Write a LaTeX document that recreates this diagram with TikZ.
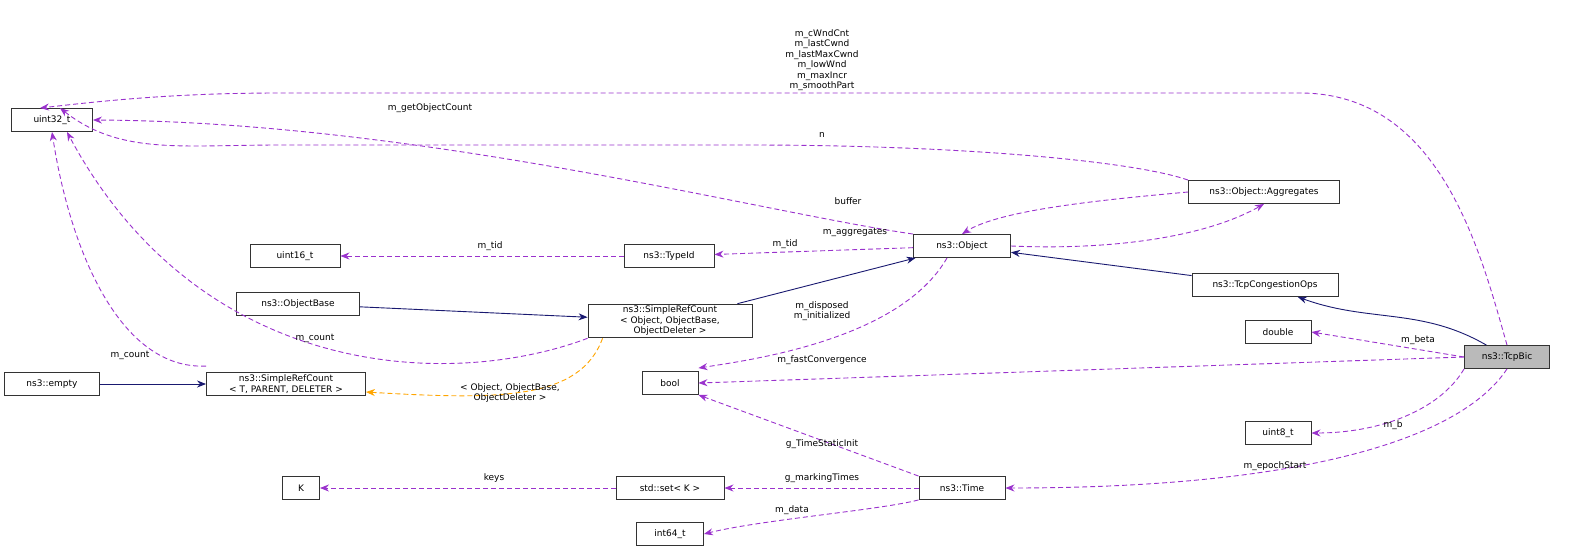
\documentclass[tikz,border=0pt]{standalone}
\usepackage{fontspec}
\setmainfont{DejaVu Sans}
\usetikzlibrary{arrows.meta}
\definecolor{usecol}{HTML}{9A32CD}
\definecolor{inhcol}{HTML}{191970}
\definecolor{tplcol}{HTML}{FFA500}
\begin{document}
\begin{tikzpicture}[x=1pt,y=-1pt,font=\fontsize{9}{10.5}\selectfont,line width=0.9pt,
  cls/.style={draw=black!80,fill=white,inner sep=2pt,minimum height=23pt,align=center},
  use/.style={usecol,dash pattern=on 5pt off 3pt,-{Stealth[length=9pt,width=7pt]}},
  inh/.style={inhcol,-{Stealth[length=9pt,width=7pt]}},
  tpl/.style={tplcol,dash pattern=on 5pt off 3pt,-{Stealth[length=9pt,width=7pt]}},
  lbl/.style={black,align=center,inner sep=1pt}]
\useasboundingbox (0,0) rectangle (1575,557);
% classes
\node[cls,minimum width=81pt] (u32) at (52,120) {uint32\_t};
\node[cls,minimum width=90pt] (u16) at (295,256) {uint16\_t};
\node[cls,minimum width=123pt] (obase) at (298,304) {ns3::ObjectBase};
\node[cls,minimum width=95pt] (empty) at (52,384) {ns3::empty};
\node[cls,minimum width=159pt] (srct) at (286,384) {ns3::SimpleRefCount\\\textless{} T, PARENT, DELETER \textgreater};
\node[cls,minimum width=37pt] (k) at (301,488) {K};
\node[cls,minimum width=90pt] (tid) at (669,256) {ns3::TypeId};
\node[cls,minimum width=164pt] (srco) at (670,321) {ns3::SimpleRefCount\\\textless{} Object, ObjectBase,\\ObjectDeleter \textgreater};
\node[cls,minimum width=108pt] (set) at (670,488) {std::set\textless{} K \textgreater};
\node[cls,minimum width=97pt] (obj) at (962,246) {ns3::Object};
\node[cls,minimum width=56pt] (bool) at (670,383) {bool};
\node[cls,minimum width=86pt] (time) at (962,488) {ns3::Time};
\node[cls,minimum width=67pt] (i64) at (670,534) {int64\_t};
\node[cls,minimum width=151pt] (agg) at (1264,192) {ns3::Object::Aggregates};
\node[cls,minimum width=146pt] (tco) at (1265,285) {ns3::TcpCongestionOps};
\node[cls,minimum width=66pt] (dbl) at (1278,332) {double};
\node[cls,minimum width=66pt] (u8) at (1278,433) {uint8\_t};
\node[cls,minimum width=85pt,fill=black!27] (bic) at (1507,357) {ns3::TcpBic};
% inheritance
\draw[inh] (bic) to[out=150,in=-20] (tco);
\draw[inh] (tco) -- (obj);
\draw[inh] (srco) -- (obj);
\draw[inh] (obase) -- (srco);
\draw[inh] (empty) -- (srct);
% usage
\draw[use] (bic.north) .. controls (1480,250) and (1440,93) .. (1300,93)
  -- (280,93) .. controls (180,93) and (110,100) .. ([xshift=-12pt]u32.north);
\node[lbl] at (822,60) {m\_cWndCnt\\m\_lastCwnd\\m\_lastMaxCwnd\\m\_lowWnd\\m\_maxIncr\\m\_smoothPart};
\draw[use] (agg.north west) .. controls (1130,160) and (950,145) .. (750,145)
  -- (280,145) .. controls (180,145) and (120,155) .. ([xshift=8pt]u32.north);
\node[lbl] at (822,135) {n};
\draw[use] (obj.north west) .. controls (760,212) and (420,122) .. (u32.east);
\node[lbl] at (430,108) {m\_getObjectCount};
\draw[use] (srco.south west) .. controls (450,390) and (200,380) .. ([xshift=15pt]u32.south);
\node[lbl] at (315,338) {m\_count};
\draw[use] ([yshift=6pt]srct.north west) .. controls (120,370) and (70,250) .. (u32.south);
\node[lbl] at (130,355) {m\_count};
\draw[use] (tid) -- (u16);
\node[lbl] at (490,246) {m\_tid};
\draw[use] (obj) -- (tid);
\node[lbl] at (785,244) {m\_tid};
\draw[use] (agg.west) .. controls (1100,200) and (1000,210) .. (obj.north);
\node[lbl] at (848,201) {buffer};
\draw[use] (obj.east) .. controls (1100,250) and (1200,240) .. (agg.south);
\node[lbl] at (855,232) {m\_aggregates};
\draw[tpl] ([xshift=15pt]srco.south west) .. controls (580,400) and (500,400) .. ([yshift=-8pt]srct.east);
\node[lbl] at (510,393) {\textless{} Object, ObjectBase,\\ObjectDeleter \textgreater};
\draw[use] ([xshift=-15pt]obj.south) .. controls (900,340) and (750,360) .. ([yshift=3pt]bool.north east);
\node[lbl] at (822,311) {m\_disposed\\m\_initialized};
\draw[use] (bic.west) -- (bool.east);
\node[lbl] at (822,360) {m\_fastConvergence};
\draw[use] (time.north west) -- (bool.south east);
\node[lbl] at (822,444) {g\_TimeStaticInit};
\draw[use] (time) -- (set);
\node[lbl] at (822,478) {g\_markingTimes};
\draw[use] (set) -- (k);
\node[lbl] at (494,478) {keys};
\draw[use] (time.south west) .. controls (880,510) and (760,520) .. (i64.east);
\node[lbl] at (792,510) {m\_data};
\draw[use] (bic.south) .. controls (1460,440) and (1300,488) .. (time.east);
\node[lbl] at (1275,466) {m\_epochStart};
\draw[use] (bic.west) -- (dbl.east);
\node[lbl] at (1418,340) {m\_beta};
\draw[use] (bic.south west) .. controls (1440,410) and (1380,433) .. (u8.east);
\node[lbl] at (1393,425) {m\_b};
\end{tikzpicture}
\end{document}
